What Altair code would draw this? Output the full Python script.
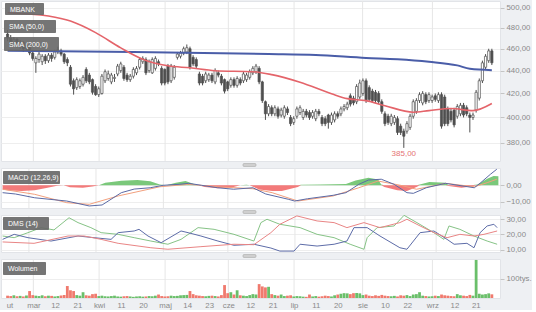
import json
import altair as alt
import pandas as pd

FONT = "Liberation Sans"
DARK = "#4f4f4f"

# ---------------- data ----------------
OPEN = [474,470,466,469,463,466,460,462,456,447, 450,448,453,449,454,452,457,458,455,450,
        443,431,425,426,428,441,436,432,426,419, 420,431,433,430,433,437,440,443,436,432,
        435,438,443,448,450,440,438,442,448,442, 441,444,431,434,452,453,456,457,460,452,
        450,437,435,431,432,436,430,438,435,432, 430,427,432,427,432,431,432,434,438,439,
        442,430,413,403,408,403,407,402,401,407, 400,396,401,404,400,405,404,401,399,405,
        400,399,402,396,398,403,403,407,408,418, 416,413,417,420,431,425,422,421,420,413,
        403,401,395,396,399,393,389,389,392,401, 405,414,412,419,414,414,418,414,419,417,
        407,405,406,401,403,410,408,402,400,406, 416,431,443,449,458]
CLOSE = [470,466,469,463,466,460,463,456,451,451, 455,453,449,454,451,457,459,455,448,447,
         428,424,432,431,434,431,430,421,419,424, 435,439,437,436,434,444,446,433,432,435,
         441,442,450,451,438,448,450,451,446,429, 429,430,444,443,455,456,460,461,443,446,
         444,429,429,437,436,431,440,436,429,422, 424,432,427,433,429,437,436,439,442,444,
         430,414,403,409,403,408,401,406,408,404, 395,399,407,408,405,402,400,404,405,403,
         395,395,396,402,403,401,407,409,411,411, 412,426,429,431,414,415,414,414,413,405,
         395,396,401,400,388,388,385,395,401,413, 414,419,420,413,419,417,415,419,393,395,
         395,398,394,409,410,402,403,400,402,421, 431,447,453,458,447]
HIGH = [478,473,471,470,468,467,465,464,458,453, 457,455,455,456,456,459,462,460,456,452,
        445,433,434,433,436,443,438,433,428,426, 437,441,440,438,437,446,448,445,438,437,
        443,444,452,453,452,450,452,453,450,444, 442,446,446,445,457,458,462,464,462,454,
        452,439,437,439,438,438,442,440,437,433, 431,434,434,435,434,439,438,441,444,446,
        444,431,414,411,410,410,409,408,410,409, 402,401,409,410,407,407,406,406,407,407,
        402,401,403,404,405,405,409,411,413,420, 418,428,432,433,433,427,424,423,422,415,
        405,403,403,402,401,395,391,397,403,415, 416,421,422,421,421,419,420,421,421,419,
        409,407,408,411,412,412,410,404,404,423, 433,449,455,460,460]
LOW = [467,463,464,461,460,457,458,454,449,438, 447,445,446,447,448,450,455,453,446,444,
       426,419,423,424,426,429,428,419,418,417, 419,429,431,428,430,435,438,431,430,430,
       433,436,441,446,436,438,437,440,444,427, 427,428,429,432,450,451,454,455,441,444,
       442,427,427,429,430,429,428,434,427,420, 422,425,425,425,427,429,430,432,436,437,
       428,412,398,401,401,401,399,400,399,402, 393,394,399,402,398,400,398,399,397,401,
       393,393,391,394,396,399,401,405,406,409, 410,411,415,418,412,413,412,412,411,403,
       393,394,393,394,386,386,376,387,390,399, 403,412,410,411,412,412,413,412,391,393,
       393,396,392,399,401,400,401,388,398,404, 414,429,441,447,445]
VOLUME_K = [12,10,14,9,11,8,13,36,15,12, 10,14,9,12,11,8,10,13,15,62,
            40,36,15,12,30,14,12,20,22,10, 12,9,8,10,12,8,7,9,10,8,
            6,8,9,7,8,10,9,12,18,10, 8,9,12,10,11,14,15,16,36,20,
            14,12,10,9,11,12,10,8,15,67, 25,30,18,40,14,12,10,15,20,18,
            72,60,55,58,20,15,12,18,10,12, 14,8,10,9,7,6,18,8,10,7,
            9,12,10,8,14,18,22,25,24,20, 25,26,24,15,18,12,10,14,11,16,
            12,10,9,11,8,14,12,15,10,18, 20,30,12,10,8,9,12,10,18,14,
            12,10,9,20,14,12,10,16,12,197, 22,18,20,24,19]

SMA50_I = [0, 13, 20, 28, 36, 43, 51, 58, 66, 78, 84, 93, 103, 108, 114, 120, 129, 134, 141, 148, 154]
SMA50_V = [495, 491.6, 486.6, 475.3, 460.8, 450.3, 444.3, 442.5, 439.9, 439.0, 436.4, 429.7,
           419.8, 415.6, 413.9, 409.7, 404.3, 405.6, 407.3, 405.6, 411.5]
SMA200_I = [0, 40, 83, 98, 114, 124, 134, 143, 147, 154]
SMA200_V = [458.2, 457.0, 455.1, 454.2, 451.5, 450.3, 448.0, 444.7, 441.6, 440.4]

MACD_I = [0, 4, 10, 20, 27, 31, 37, 41, 46, 50, 55, 58, 62, 67, 72, 78, 82, 89, 91, 95,
          103, 107, 111, 114, 118, 122, 126, 128, 132, 138, 145, 147, 149, 152, 154]
MACD_V = [-4.5, -5.3, -7.6, -9.6, -12.6, -12.0, -4.5, -2.3, -1.5, 0, 0.6, 1.2, 0, -1.5, -2.4,
          -1.5, -5.3, -8.5, -9.6, -8.2, -6.1, -4.5, 0.6, 3.2, 3.7, 0.6, -4.5, -4.9, -1.5, 1.2,
          -0.9, -1.5, 1.6, 6.7, 9.8]
SIG_I = [0, 10, 20, 27, 36, 49, 58, 67, 78, 84, 92, 103, 111, 117, 124, 129, 138, 147, 151, 154]
SIG_V = [-2.4, -5.5, -10.6, -11.6, -6.5, -0.9, 0.6, -0.9, -2.1, -4.5, -9.6, -6.5, -1.5, 2.6,
         0, -2.4, 1.2, -0.9, 1.6, 3.7]
HIST_I = [0, 2, 6, 10, 14, 17, 19, 21, 25, 28, 30, 32, 37, 42, 46, 49, 51, 54, 57, 60, 61, 63,
          67, 72, 74, 76, 77, 80, 84, 87, 92, 93, 99, 107, 110, 114, 117, 118, 119, 123, 126,
          129, 130, 133, 138, 139, 143, 146, 148, 151, 153, 154.5]
HIST_V = [-2.5, -3.2, -3.5, -3.0, -1.5, -0.3, 0, -1.2, -1.5, -0.8, 0, 1.5, 2.8, 3.2, 2.5, 0.5,
          0, 1.5, 2.6, 0.5, 0, -1.0, -1.8, -1.0, 0, 0.3, 0, -2.5, -3.5, -3.5, -1.0, 0.3, 0.5,
          0.8, 3.0, 4.6, 3.5, 0.5, -1.0, -3.0, -3.5, -1.0, 0.5, 2.0, 1.5, -0.5, -1.5, -0.8,
          0.5, 4.0, 5.7, 5.5]

DMS_G_I = [0, 3.6, 7.9, 12, 16, 20.7, 23.5, 27.5, 30.7, 36, 41, 46.2, 51.5, 55.6, 60.9, 65.9,
           72.1, 78.3, 80.5, 82.4, 86.4, 92.7, 98, 103.3, 108.3, 112.6, 113.6, 116.7, 122,
           125.1, 129.1, 134.4, 137.5, 139.1, 142.5, 146.9, 151, 154.1]
DMS_G_V = [19.0, 17.9, 21.2, 24.5, 23.0, 31.0, 27.8, 24.5, 21.2, 20.1, 17.9, 15.7, 13.6, 16.8,
           24.5, 23.4, 20.1, 15.7, 27.8, 30.0, 26.7, 24.5, 20.1, 17.9, 13.6, 10.3, 17.9, 24.5,
           25.6, 32.6, 27.8, 21.2, 16.8, 25.6, 23.4, 19.0, 15.7, 13.6]
DMS_B_I = [0, 3.6, 7.9, 15.1, 23.5, 28.5, 33.8, 36, 41, 42.5, 45.3, 49.4, 55.6, 57.8, 61.8,
           67.1, 72.1, 78.3, 83.6, 86.4, 90.8, 92.7, 98, 103.3, 107.3, 109.5, 113.6, 117.6,
           123.8, 126, 130.1, 134.4, 138.5, 140.7, 144.7, 146.9, 148.8, 151, 153.1, 154.1]
DMS_B_V = [16.8, 20.1, 17.9, 15.7, 19.0, 17.9, 16.8, 21.2, 22.3, 23.4, 19.0, 14.6, 22.3, 21.2,
           19.0, 15.7, 12.9, 13.6, 11.1, 9.1, 9.1, 13.6, 12.4, 13.6, 15.7, 24.5, 24.5, 19.0,
           11.3, 10.3, 21.2, 22.3, 16.8, 13.6, 14.2, 11.3, 21.2, 25.6, 26.7, 24.5]
DMS_R_I = [0, 9.8, 20.4, 25.4, 30.7, 36, 46.2, 51.5, 61.8, 72.1, 78.3, 83.6, 86.4, 91.7, 98,
           103.3, 107.3, 112.6, 117.6, 123.8, 126, 130.1, 134.4, 138.5, 142.5, 146.9, 150, 154.1]
DMS_R_V = [15.1, 14.2, 19.0, 19.0, 16.8, 14.2, 11.3, 10.3, 12.0, 13.6, 13.3, 21.2, 26.7, 32.2,
           28.9, 27.8, 24.5, 27.8, 24.5, 27.8, 30.0, 25.6, 21.2, 17.9, 20.1, 19.0, 20.1, 22.3]

X_TICK_POS = [0.6, 8.2, 15.1, 22.2, 29.1, 36.1, 43.1, 50.1, 57.1, 64.1, 70.2, 77.2, 84.3,
              91.1, 98.0, 105.0, 112.9, 120.0, 127.1, 135.1, 142.1, 148.9]
X_TICK_LABELS = ["ut", "mar", "12", "21", "kwi", "11", "20", "maj", "14", "23", "cze", "12",
                 "21", "lip", "11", "20", "sie", "10", "22", "wrz", "12", "21"]
MONTH_POS = [8.2, 29.1, 50.1, 70.2, 91.1, 112.9, 135.1]

PRICE_TICKS = [380, 400, 420, 440, 460, 480, 500]
MACD_TICKS = [-10, 0]
DMS_TICKS = [10, 20, 30]
VOL_TICKS = [100]
MIN_LABEL = "385,00"

# ---------------- tables ----------------
candles = pd.DataFrame({"i": list(range(len(OPEN))), "o": OPEN, "h": HIGH, "l": LOW,
                        "c": CLOSE, "vol": VOLUME_K})
sma50 = pd.DataFrame({"i": SMA50_I, "v": SMA50_V})
sma200 = pd.DataFrame({"i": SMA200_I, "v": SMA200_V})
macd = pd.DataFrame({"i": MACD_I, "v": MACD_V})
sig = pd.DataFrame({"i": SIG_I, "v": SIG_V})
hist = pd.DataFrame({"i": HIST_I, "h": HIST_V})
dg = pd.DataFrame({"i": DMS_G_I, "v": DMS_G_V})
db = pd.DataFrame({"i": DMS_B_I, "v": DMS_B_V})
dr = pd.DataFrame({"i": DMS_R_I, "v": DMS_R_V})
months = pd.DataFrame({"pos": MONTH_POS})
low_i = LOW.index(min(LOW))
ann = pd.DataFrame({"i": [low_i], "v": [min(LOW)], "t": [MIN_LABEL]})
one = pd.DataFrame({"a": [0]})

W = 499
XS = alt.Scale(domain=[-0.5, 155], nice=False, zero=False)
FMT2 = "replace(format(datum.value, '.2f'), '.', ',')"
NOX = alt.Axis(values=MONTH_POS, labels=False, ticks=False, domain=False, grid=False, title=None)


def X(field, axis):
    return alt.X(f"{field}:Q", scale=XS, axis=axis)


def yaxis(values, expr):
    return alt.Axis(orient="right", values=values, labelExpr=expr, grid=True, title=None,
                    tickSize=4, domain=False, labelPadding=2)


def month_grid(xa):
    return alt.Chart(months).mark_rule(color="#e6e6e6", strokeWidth=1).encode(x=X("pos", xa))


def tag(text, x0, x1, y0, y1):
    d = pd.DataFrame({"t": [text]})
    box = alt.Chart(d).mark_rect(color="#666666", opacity=0.9, cornerRadius=1).encode(
        x=alt.value(x0), x2=alt.value(x1), y=alt.value(y0), y2=alt.value(y1))
    txt = alt.Chart(d).mark_text(color="white", fontSize=7, font=FONT, align="left",
                                 baseline="middle").encode(
        x=alt.value(x0 + 5), y=alt.value((y0 + y1) / 2 + 0.5), text="t:N")
    return [box, txt]


def handle():
    return alt.Chart(one).mark_rect(fill="#cfcfcf", stroke="#a9a9a9", strokeWidth=0.6,
                                    cornerRadius=1).encode(
        x=alt.value(242), x2=alt.value(255), y=alt.value(-4.5), y2=alt.value(-1.5))


# ---------------- price panel ----------------
PY = alt.Scale(type="log", domain=[366.1, 506.9], nice=False, zero=False)
PA = yaxis(PRICE_TICKS, FMT2)
wick = alt.Chart(candles).mark_rule(color=DARK, strokeWidth=1).encode(
    x=X("i", NOX), y=alt.Y("l:Q", scale=PY, axis=PA), y2="h:Q")
body = alt.Chart(candles).transform_calculate(
    d="datum.c >= datum.o ? 'up' : 'down'"
).mark_bar(size=2.2, orient="vertical", stroke=DARK, strokeWidth=0.7).encode(
    x=X("i", NOX), y=alt.Y("o:Q", scale=PY, axis=PA), y2="c:Q",
    fill=alt.Fill("d:N", scale=alt.Scale(domain=["up", "down"], range=["#ffffff", DARK]),
                  legend=None))
l200 = alt.Chart(sma200).mark_line(color="#4a5da8", strokeWidth=2, interpolate="monotone").encode(
    x=X("i", NOX), y=alt.Y("v:Q", scale=PY, axis=PA))
l50 = alt.Chart(sma50).mark_line(color="#e4646a", strokeWidth=1.6, interpolate="monotone").encode(
    x=X("i", NOX), y=alt.Y("v:Q", scale=PY, axis=PA))
annot = alt.Chart(ann).mark_text(color="#e57373", fontSize=8, font=FONT, baseline="top",
                                 dy=2).encode(
    x=X("i", NOX), y=alt.Y("v:Q", scale=PY, axis=PA), text="t:N")
main = alt.layer(
    month_grid(NOX), wick, body, l200, l50, annot,
    *tag("MBANK", 4, 43, 2, 14), *tag("SMA (50,0)", 3, 55, 19, 32),
    *tag("SMA (200,0)", 3, 58, 36, 50),
).properties(width=W, height=160)

# ---------------- MACD panel ----------------
MY = alt.Scale(domain=[-13.84, 10.55], nice=False, zero=False)
MA = yaxis(MACD_TICKS, FMT2)
hpos = alt.Chart(hist).transform_calculate(p="max(datum.h, 0)").mark_area(
    color="#6cc26c", opacity=0.9).encode(
    x=X("i", NOX), y=alt.Y("p:Q", scale=MY, axis=MA), y2=alt.datum(0))
hneg = alt.Chart(hist).transform_calculate(n="min(datum.h, 0)").mark_area(
    color="#f26b6b", opacity=0.9).encode(
    x=X("i", NOX), y=alt.Y("n:Q", scale=MY, axis=MA), y2=alt.datum(0))
lmacd = alt.Chart(macd).mark_line(color="#5b6aa5", strokeWidth=1).encode(
    x=X("i", NOX), y=alt.Y("v:Q", scale=MY, axis=MA))
lsig = alt.Chart(sig).mark_line(color="#f2a07e", strokeWidth=1).encode(
    x=X("i", NOX), y=alt.Y("v:Q", scale=MY, axis=MA))
macd_panel = alt.layer(
    month_grid(NOX), hpos, hneg, lsig, lmacd, *tag("MACD (12,26,9)", 2, 59, 3, 16), handle()
).properties(width=W, height=40)

# ---------------- DMS panel ----------------
DY = alt.Scale(domain=[8.5, 32.8], nice=False, zero=False)
DA = yaxis(DMS_TICKS, FMT2)
lg = alt.Chart(dg).mark_line(color="#86c386", strokeWidth=1).encode(
    x=X("i", NOX), y=alt.Y("v:Q", scale=DY, axis=DA))
lb = alt.Chart(db).mark_line(color="#5d6ca8", strokeWidth=1).encode(
    x=X("i", NOX), y=alt.Y("v:Q", scale=DY, axis=DA))
lr = alt.Chart(dr).mark_line(color="#e98585", strokeWidth=1).encode(
    x=X("i", NOX), y=alt.Y("v:Q", scale=DY, axis=DA))
dms_panel = alt.layer(
    month_grid(NOX), lg, lb, lr, *tag("DMS (14)", 2, 48, 2, 15), handle()
).properties(width=W, height=37)

# ---------------- volume panel ----------------
VY = alt.Scale(domain=[0, 202], nice=False, zero=True)
VA = yaxis(VOL_TICKS, "'100tys.'")
xexpr = f"{json.dumps(X_TICK_LABELS)}[indexof({json.dumps(X_TICK_POS)}, datum.value)]"
XA = alt.Axis(values=X_TICK_POS, labelExpr=xexpr, grid=False, ticks=False, domain=False,
              title=None, labelPadding=3, labelOverlap=False)
vbars = alt.Chart(candles).transform_calculate(
    d="datum.c >= datum.o ? 'up' : 'down'"
).mark_bar(size=2.8, orient="vertical").encode(
    x=X("i", XA),
    y=alt.Y("vol:Q", scale=VY, axis=VA),
    color=alt.Color("d:N", scale=alt.Scale(domain=["up", "down"], range=["#6abf6a", "#f07a6e"]),
                    legend=None))
vol_panel = alt.layer(
    month_grid(XA), vbars, *tag("Wolumen", 2, 45, 3, 16), handle()
).properties(width=W, height=39)

chart = alt.vconcat(main, macd_panel, dms_panel, vol_panel, spacing=7, bounds="flush").properties(
    padding=0, background="#eef0f3"
).configure_view(fill="white", stroke="#e2e4e8", strokeWidth=1).configure_axis(
    labelFont=FONT, labelFontSize=7.8, labelColor="#8a8a8a", tickColor="#c4c4c4",
    gridColor="#eeeeee", labelFlush=False, labelOverlap=False
)

chart.save("out.html", embed_options={"renderer": "svg", "actions": False})
